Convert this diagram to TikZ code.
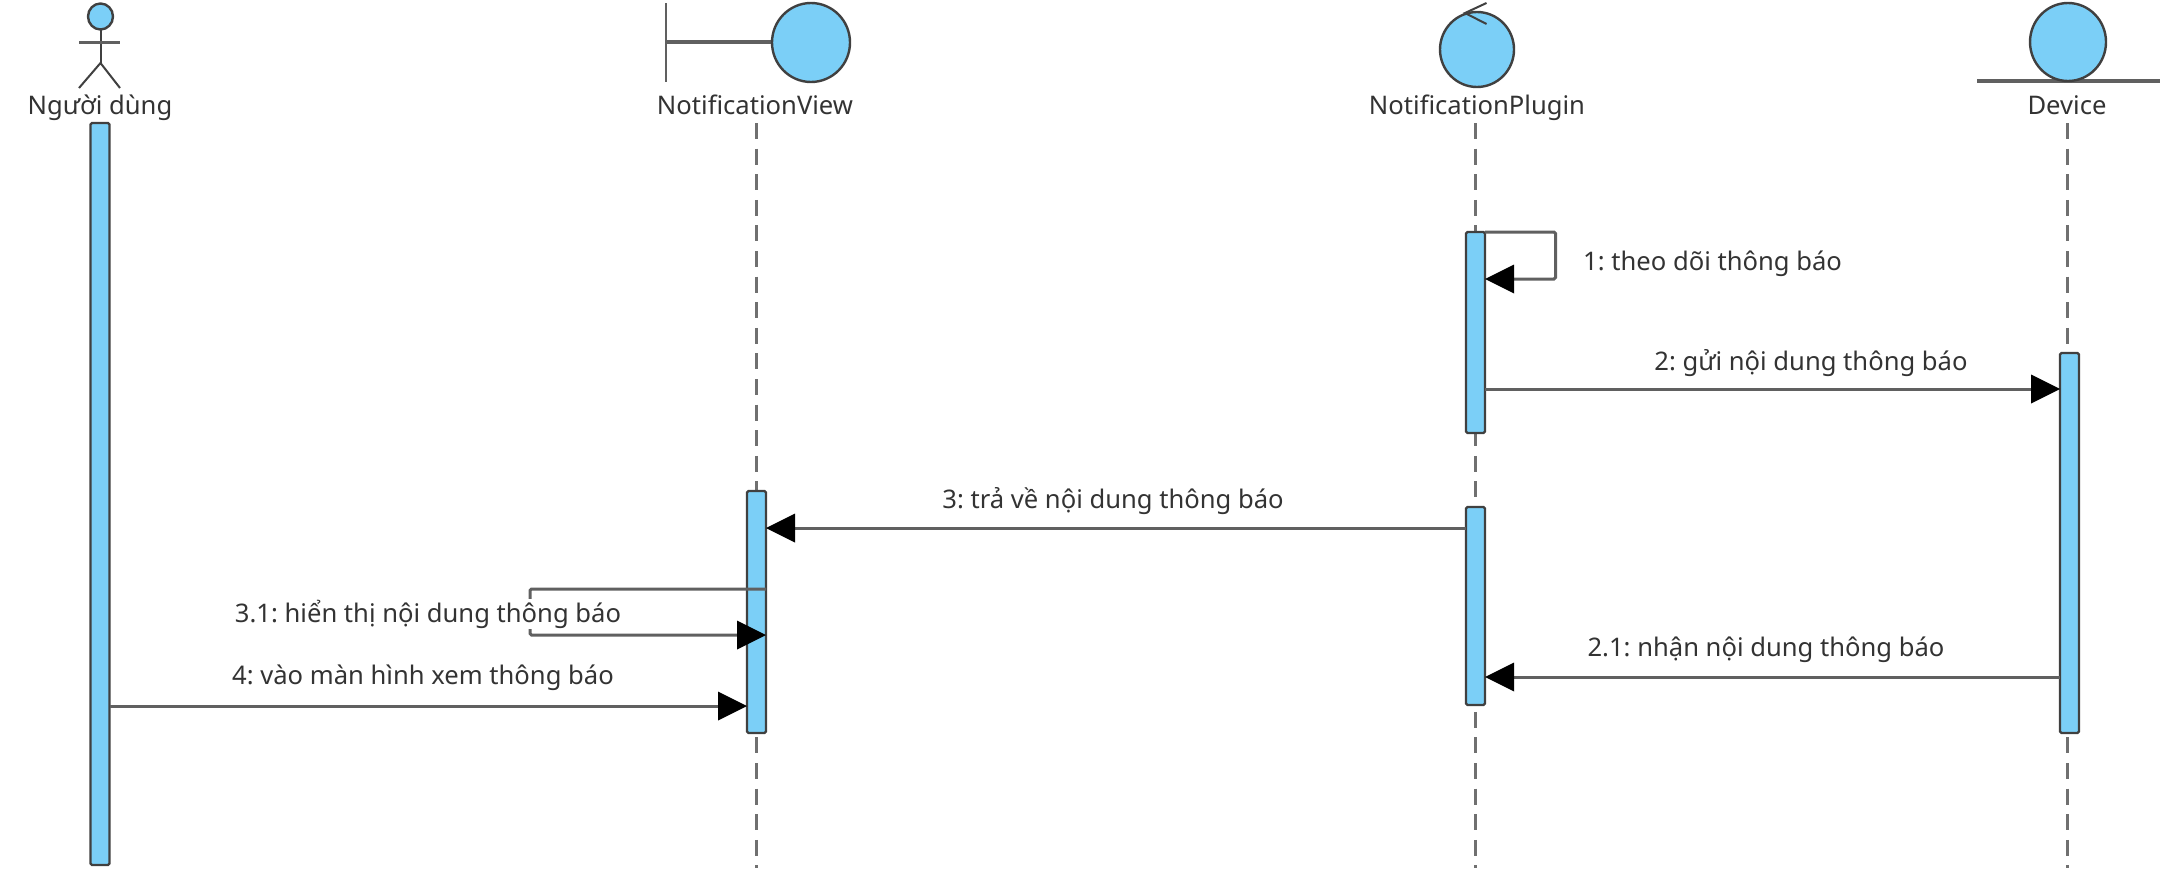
\documentclass[tikz,border=0pt]{standalone}
\usepackage{fontspec}
\setmainfont{Noto Sans}
\usetikzlibrary{arrows.meta}
\definecolor{fillblue}{HTML}{7BCFF7}
\definecolor{ln}{HTML}{404040}
\definecolor{msgln}{HTML}{606060}
\tikzset{
  lbl/.style={font=\fontsize{25.6}{28}\selectfont\frenchspacing, text=black!80, inner sep=0pt, anchor=base},
  wlbl/.style={lbl, fill=white, inner ysep=1pt, inner xsep=0pt},
  actbar/.style={draw=ln, fill=fillblue, line width=2.4pt, rounded corners=1.5pt, minimum width=19pt, inner sep=0pt, outer sep=0pt},
  glyph/.style={draw=ln, fill=fillblue, line width=2.4pt},
  strk/.style={draw=msgln, line width=2.6pt},
  thin strk/.style={draw=ln, line width=2pt},
  life/.style={draw=msgln!90, line width=3pt, dash pattern=on 16pt off 9.6pt},
  msg/.style={draw=msgln, line width=3pt, -{Triangle[length=29pt,width=29pt,black,line width=0pt]}}
}
\begin{document}
\begin{tikzpicture}[x=1pt,y=-1pt]
\useasboundingbox (0,0) rectangle (2160,878);
% glyphs
\draw[glyph] (100.5,16.5) ellipse [x radius=12.5, y radius=13];
\draw[thin strk] (100.5,29.5) -- (100.5,63);
\draw[strk, line width=3pt] (79,42) -- (120,42);
\draw[thin strk] (79,88) -- (100.5,63) -- (120,88);
\draw[strk, line width=2.6pt] (666,3) -- (666,82);
\draw[strk, line width=3.4pt] (666,42) -- (772,42);
\draw[glyph] (811,42.5) ellipse [x radius=39, y radius=39.5];
\draw[glyph] (1477,49.5) ellipse [x radius=37, y radius=37.5];
\draw[thin strk] (1486.5,3) -- (1465,13) -- (1486.5,24);
\draw[strk, line width=3.4pt] (1977,81) -- (2160,81);
\draw[glyph] (2068,42) ellipse [x radius=38, y radius=39];
% participant names
\node[lbl] (nuser) at (100,114) {Người dùng};
\node[lbl] (nview) at (755,114) {NotificationView};
\node[lbl] (nplug) at (1477,114) {NotificationPlugin};
\node[lbl] (ndev) at (2067,114) {Device};
% lifelines
\coordinate (vtop) at (756,123); \coordinate (vbot) at (756,868);
\coordinate (ptop) at (1475.5,123); \coordinate (pbot) at (1475.5,868);
\coordinate (dtop) at (2067,123); \coordinate (dbot) at (2067,868);
\draw[life] (vtop) -- (vbot);
\draw[life] (ptop) -- (pbot);
\draw[life] (dtop) -- (dbot);
% activations
\node[actbar, anchor=north, minimum height=742pt] (auser) at (100,123) {};
\node[actbar, anchor=north, minimum height=242pt] (aview) at (756.5,491) {};
\node[actbar, anchor=north, minimum height=201pt] (aplug1) at (1475.5,232) {};
\node[actbar, anchor=north, minimum height=198pt] (aplug2) at (1475.5,507) {};
\node[actbar, anchor=north, minimum height=380pt] (adev) at (2069.5,353) {};
% messages
\draw[rounded corners=1.5pt, msg] (aplug1.north east) -- (1555.5,232) -- (1555.5,279) -- (aplug1.east |- 0,279);
\node[lbl, anchor=base west] (m1) at (1583,270) {1: theo dõi thông báo};
\draw[msg] (aplug1.east |- 0,389) -- (adev.west |- 0,389);
\node[lbl] (m2) at (1811,370) {2: gửi nội dung thông báo};
\draw[msg] (aplug2.west |- 0,528) -- (aview.east |- 0,528);
\node[lbl] (m3) at (1113,508) {3: trả về nội dung thông báo};
\draw[rounded corners=1.5pt, msg] (aview.east |- 0,589) -- (530,589) -- (530,635) -- (aview.east |- 0,635);
\node[wlbl] (m31) at (428,622) {3.1: hiển thị nội dung thông báo};
\draw[msg] (adev.west |- 0,677) -- (aplug2.east |- 0,677);
\node[lbl] (m21) at (1766,656) {2.1: nhận nội dung thông báo};
\draw[msg] (auser.east |- 0,706) -- (aview.west |- 0,706);
\node[lbl] (m4) at (423,684) {4: vào màn hình xem thông báo};
\end{tikzpicture}
\end{document}
